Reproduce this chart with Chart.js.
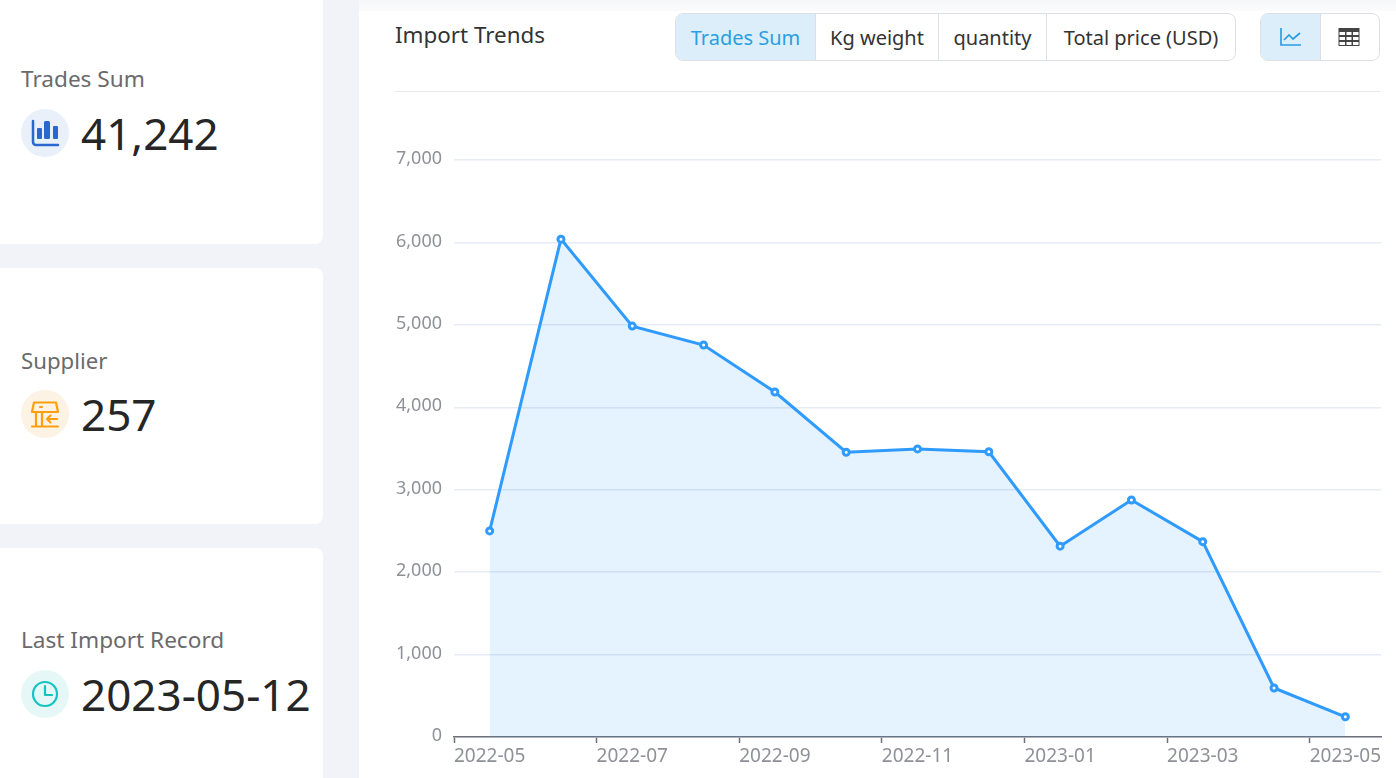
<!DOCTYPE html>
<html>
<head>
<meta charset="utf-8">
<title>Import Trends</title>
<script src="https://cdn.jsdelivr.net/npm/chart.js@4"></script>
<style>
    * { box-sizing: border-box; }
    html, body { margin: 0; width: 1396px; height: 778px; overflow: hidden; background: #f2f3f9; font-family: "Noto Sans", sans-serif; }
    .card { position: absolute; left: -10px; width: 333px; background: #fff; border-radius: 8px; }
    .stat-title { position: absolute; left: 21px; font-size: 22.6px; line-height: 30px; color: #6a6a6e; white-space: nowrap; }
    .stat-icon { position: absolute; left: 21px; width: 48px; height: 48px; border-radius: 50%; display: flex; align-items: center; justify-content: center; }
    .stat-value { position: absolute; left: 81px; font-size: 44px; line-height: 54px; color: #262626; white-space: nowrap; }
    #panel { position: absolute; left: 359px; top: 0; width: 1037px; height: 778px; background: #fff; }
    #strip { position: absolute; left: 359px; top: 0; width: 1037px; height: 11px; background: linear-gradient(#f6f7f8, #fbfbfc); }
    #heading { position: absolute; left: 395px; top: 18px; font-size: 22.4px; line-height: 33px; color: #333; }
    #rule { position: absolute; left: 395px; top: 91px; width: 985px; height: 1px; background: #e8e8e8; }
    .group { position: absolute; top: 13px; height: 48px; display: flex; border: 1px solid #dcdfe3; border-radius: 8px; overflow: hidden; }
    .group div { height: 46px; font-size: 20px; color: #333; border-left: 1px solid #dcdfe3; white-space: nowrap; display: flex; align-items: center; justify-content: center; }
    .group div:first-child { border-left: 0; }
    .group .active { background: #dceefa; color: #2a9fe0; }
    #myChart { position: absolute; left: 380px; top: 100px; }
</style>
</head>
<body>
    <div class="card" style="top: -10px; height: 254px;"></div>
    <div class="card" style="top: 268px; height: 256px;"></div>
    <div class="card" style="top: 548px; height: 250px;"></div>

    <div class="stat-title" style="top: 64px;">Trades Sum</div>
    <div class="stat-icon" style="top: 109px; background: #e9f0fa;">
        <svg width="30" height="30" viewBox="0 0 30 30" fill="none">
            <path d="M3 3v21a3 3 0 0 0 3 3h22" stroke="#2a68d0" stroke-width="2.5" stroke-linecap="round"/>
            <rect x="7" y="10" width="5" height="11" rx="1" fill="#2a68d0"/>
            <rect x="14" y="3" width="6" height="18" rx="1.5" fill="#2a68d0"/>
            <rect x="23" y="8" width="5" height="13" rx="1" fill="#2a68d0"/>
        </svg>
    </div>
    <div class="stat-value" style="top: 106px;">41,242</div>

    <div class="stat-title" style="top: 346px; font-size: 22.2px;">Supplier</div>
    <div class="stat-icon" style="top: 390px; background: #fdf3e4;">
        <svg width="30" height="30" viewBox="0 0 30 30" fill="none" stroke="#ff9f0f" stroke-width="2.2" stroke-linecap="round" stroke-linejoin="round">
            <path d="M4 3.5h22l2 9.5H2z"/>
            <path d="M10 8h2"/>
            <path d="M6 13v14.5M12 13v14.5M2 27.5h26"/>
            <path d="M27 20h-10M20.5 16.5L17 20l3.5 3.5"/>
        </svg>
    </div>
    <div class="stat-value" style="top: 387px;">257</div>

    <div class="stat-title" style="top: 625px;">Last Import Record</div>
    <div class="stat-icon" style="top: 670px; background: #e5f8f7;">
        <svg width="30" height="30" viewBox="0 0 30 30" fill="none" stroke="#14c4c0" stroke-width="2.2" stroke-linecap="round" stroke-linejoin="round">
            <circle cx="15" cy="15" r="12"/>
            <path d="M15 7v9h7"/>
        </svg>
    </div>
    <div class="stat-value" style="top: 667px;">2023-05-12</div>

    <div id="panel"></div>
    <div id="strip"></div>
    <div id="heading">Import Trends</div>
    <div id="rule"></div>
    <div class="group" style="left: 675px; width: 561px;">
        <div class="active" style="width: 139px;">Trades Sum</div>
        <div style="width: 123px;">Kg weight</div>
        <div style="width: 108px;">quantity</div>
        <div style="width: 189px;">Total price (USD)</div>
    </div>
    <div class="group" style="left: 1260px; width: 120px;">
        <div class="active" style="width: 59px;">
            <svg width="22" height="20" viewBox="0 0 22 20" fill="none" stroke="#2a9fe0" stroke-width="1.7">
                <path d="M1 1v17h20"/>
                <path d="M4 13l5-5 4 4 7-6"/>
            </svg>
        </div>
        <div style="width: 59px; padding-right: 3px;">
            <svg width="22" height="18" viewBox="0 0 22 18">
                <rect x="0.5" y="0" width="21" height="18" fill="#444"/>
                <g fill="#fff">
                    <rect x="1.5" y="4" width="5.5" height="3"/><rect x="8.5" y="4" width="5" height="3"/><rect x="15" y="4" width="5.5" height="3"/>
                    <rect x="1.5" y="9" width="5.5" height="3"/><rect x="8.5" y="9" width="5" height="3"/><rect x="15" y="9" width="5.5" height="3"/>
                    <rect x="1.5" y="14" width="5.5" height="3"/><rect x="8.5" y="14" width="5" height="3"/><rect x="15" y="14" width="5.5" height="3"/>
                </g>
            </svg>
        </div>
    </div>

    <canvas id="myChart" width="1016" height="678" style="width: 1016px; height: 678px;"></canvas>

<script>
const chart = document.querySelector("#myChart");

// Monthly trade counts
const labels = ["2022-05", "2022-06", "2022-07", "2022-08", "2022-09", "2022-10", "2022-11", "2022-12", "2023-01", "2023-02", "2023-03", "2023-04", "2023-05"];
const values = [2500, 6040, 4985, 4755, 4185, 3455, 3495, 3460, 2315, 2875, 2370, 595, 245];

const datasets = [
    {
        label: "Trades Sum",
        data: values,
        borderColor: "#2f9bff",
        borderWidth: 3,
        backgroundColor: "rgba(47, 155, 255, 0.125)",
        fill: "origin",
        tension: 0,
        pointRadius: 3,
        pointBorderWidth: 3,
        pointBackgroundColor: "#ffffff",
        pointBorderColor: "#2f9bff",
    },
];

const config = {
    type: "line",
    data: { labels, datasets },
    options: {
        responsive: false,
        animation: false,
        layout: { padding: { top: 60, right: 15 } },
        plugins: { legend: { display: false }, tooltip: { enabled: false } },
        scales: {
            x: {
                offset: true,
                // axis is split into month bands, only every second one is labelled
                grid: {
                    offset: true,
                    drawOnChartArea: false,
                    tickLength: 6,
                    tickWidth: 1.5,
                    tickColor: (ctx) => (ctx.index % 2 === 0 ? "#6e7079" : "transparent"),
                },
                border: { color: "#6e7079", width: 1.5 },
                ticks: {
                    autoSkip: false,
                    maxRotation: 0,
                    padding: 2,
                    color: "#8f9198",
                    font: { family: "'Noto Sans', sans-serif", size: 19 },
                    callback: (value, index) => (index % 2 === 0 ? labels[index] : ""),
                },
                afterFit: (scale) => { scale.height = 41; },
            },
            y: {
                min: 0,
                max: 7000,
                grid: { color: "#e6ebf5", lineWidth: 1.5, drawTicks: false },
                border: { display: false },
                ticks: {
                    stepSize: 1000,
                    padding: 12,
                    labelOffset: -1,
                    color: "#8f9198",
                    font: { family: "'Noto Sans', sans-serif", size: 18 },
                    callback: (value) => value.toLocaleString("en-US"),
                },
                afterFit: (scale) => { scale.width = 74; },
            },
        },
    },
};

const myChart = new Chart(chart, config);
</script>
</body>
</html>
